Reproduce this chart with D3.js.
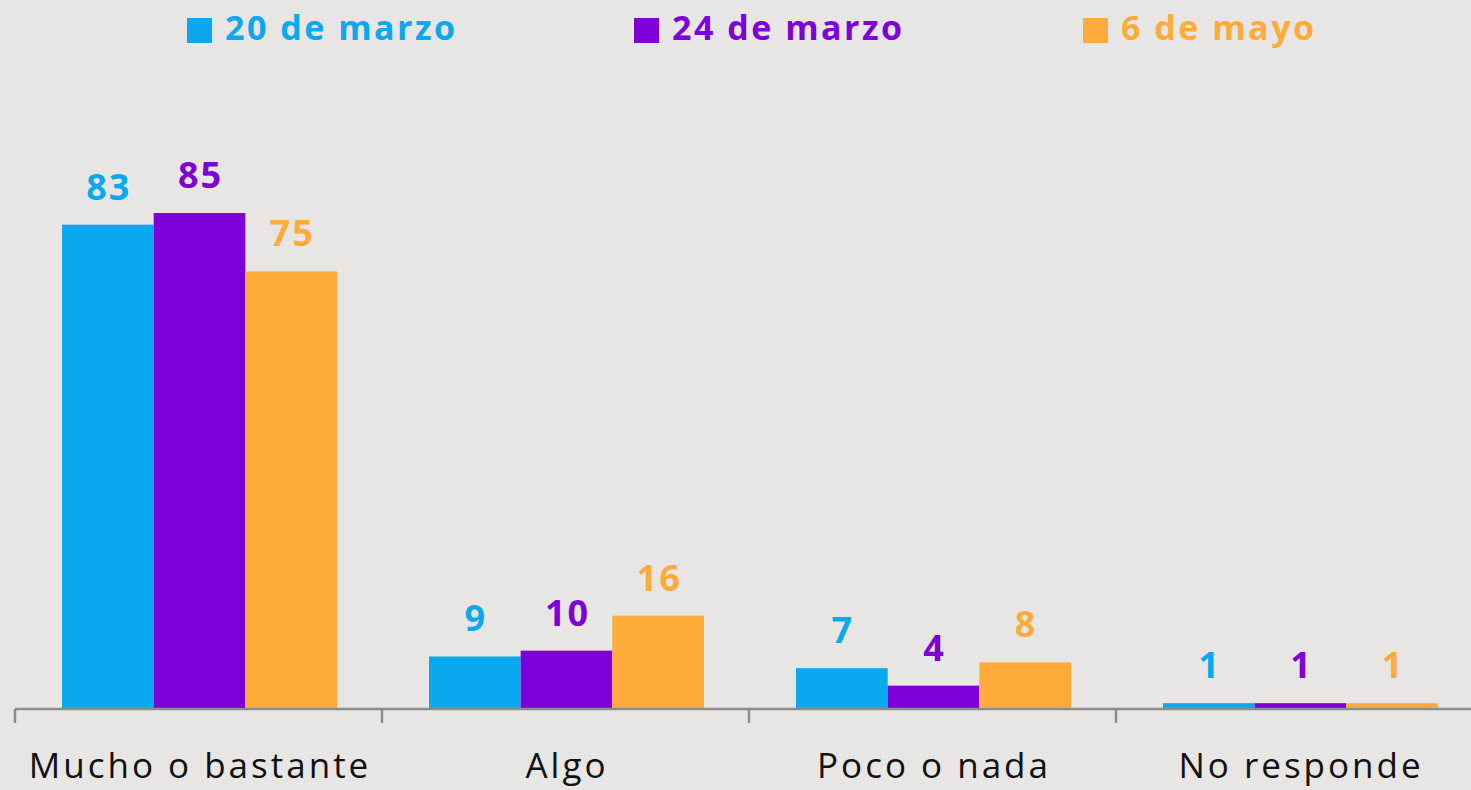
<!DOCTYPE html>
<html>
<head>
<meta charset="utf-8">
<script src="https://cdn.jsdelivr.net/npm/d3@7"></script>
<style>
  html, body { margin: 0; padding: 0; background: #e8e6e4; overflow: hidden; }
  svg { display: block; font-family: "Open Sans", "Noto Sans", sans-serif; }
</style>
</head>
<body>
<script>
const categories = ["Mucho o bastante", "Algo", "Poco o nada", "No responde"];
const seriesNames = ["20 de marzo", "24 de marzo", "6 de mayo"];
const colors = ["#0aa8ee", "#7e00d9", "#ffab3b"];

// one array per survey date, in category order
const marzo20 = [83, 9, 7, 1];
const marzo24 = [85, 10, 4, 1];
const mayo6 = [75, 16, 8, 1];
const seriesValues = [marzo20, marzo24, mayo6];

const width = 1471;
const height = 790;
const baseY = 709;

const svg = d3.select("body").append("svg")
    .attr("width", width)
    .attr("height", height)
    .attr("viewBox", [0, 0, width, height]);

const x = d3.scaleBand()
    .domain(categories)
    .range([15, 1483]);

const xInner = d3.scaleBand()
    .domain(seriesNames)
    .range([47, x.bandwidth() - 45]);

const y = d3.scaleLinear()
    .domain([0, 100])
    .range([baseY, baseY - 583.5]);

const rows = categories.map((c, i) => ({
    cat: c,
    vals: seriesNames.map((s, j) => ({ s, j, v: seriesValues[j][i] }))
}));

const group = svg.append("g")
    .selectAll("g")
    .data(rows)
    .join("g")
    .attr("transform", d => `translate(${x(d.cat)},0)`);

group.selectAll("rect")
    .data(d => d.vals)
    .join("rect")
    .attr("x", d => xInner(d.s))
    .attr("width", xInner.bandwidth())
    .attr("y", d => y(d.v))
    .attr("height", d => y(0) - y(d.v))
    .attr("fill", d => colors[d.j]);

group.selectAll("text.val")
    .data(d => d.vals)
    .join("text")
    .attr("class", "val")
    .attr("x", d => xInner(d.s) + xInner.bandwidth() / 2 + 1)
    .attr("y", d => y(d.v) - 25)
    .attr("text-anchor", "middle")
    .attr("font-size", 36)
    .attr("font-weight", 700)
    .attr("letter-spacing", 2)
    .attr("fill", d => colors[d.j])
    .text(d => d.v);

// axis: line with ticks at band boundaries
const axis = svg.append("g")
    .attr("transform", `translate(0,${baseY})`)
    .call(d3.axisBottom(x).tickSize(0).tickFormat(""));
axis.select(".domain").attr("stroke", "#8c8c8c").attr("stroke-width", 2.5)
    .attr("d", `M15,0H${width}`);

svg.append("g")
    .selectAll("line")
    .data(categories)
    .join("line")
    .attr("x1", d => x(d)).attr("x2", d => x(d))
    .attr("y1", baseY).attr("y2", baseY + 14)
    .attr("stroke", "#8c8c8c")
    .attr("stroke-width", 2.5);

svg.append("g")
    .selectAll("text")
    .data(categories)
    .join("text")
    .attr("x", d => x(d) + x.bandwidth() / 2 + 1.5)
    .attr("y", 778)
    .attr("text-anchor", "middle")
    .attr("font-size", 35)
    .attr("letter-spacing", 3)
    .attr("fill", "#111")
    .text(d => d);

// legend
const legendX = [187, 634, 1083];
const legend = svg.append("g")
    .selectAll("g")
    .data(seriesNames)
    .join("g")
    .attr("transform", (d, i) => `translate(${legendX[i]},0)`);

legend.append("rect")
    .attr("x", 0).attr("y", 18)
    .attr("width", 25).attr("height", 25)
    .attr("fill", (d, i) => colors[i]);

legend.append("text")
    .attr("x", 38)
    .attr("y", 40)
    .attr("font-size", 34)
    .attr("font-weight", 700)
    .attr("letter-spacing", 2.5)
    .attr("fill", (d, i) => colors[i])
    .text(d => d);
</script>
</body>
</html>
